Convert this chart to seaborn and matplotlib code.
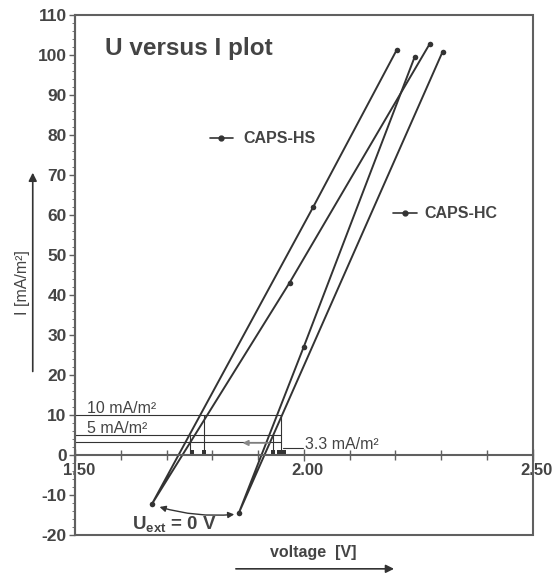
import numpy as np
import pandas as pd
import matplotlib
matplotlib.use("Agg")
import matplotlib.pyplot as plt
import matplotlib.transforms as mtransforms
from matplotlib.patches import Rectangle
from matplotlib.ticker import MultipleLocator, FormatStrFormatter
import seaborn as sns

# U-I curves (voltage in V, current in mA/m2)
hs_voltage = [2.203, 2.020, 1.668, 1.969, 2.275]
hs_current = [101.3, 61.9, -12.3, 43.1, 102.8]
hc_voltage = [2.242, 2.000, 1.858, 2.303]
hc_current = [99.5, 27.1, -14.5, 100.8]

# projections of the reference current levels onto the voltage axis
level_currents = [10, 5, 3.3]
level_labels = ["10 mA/m\u00b2", "5 mA/m\u00b2", "3.3 mA/m\u00b2"]
drop_voltage = [1.751, 1.782, 1.932, 1.950]
drop_current = [5, 10, 5, 10]
proj_voltage = [1.755, 1.782, 1.932, 1.945, 1.956]
proj_current = [0.8, 0.8, 0.8, 0.8, 0.8]

sns.set_theme(style="white")
plt.rcParams["font.family"] = ["Liberation Sans", "DejaVu Sans"]
plt.rcParams["mathtext.fontset"] = "custom"
plt.rcParams["mathtext.rm"] = "Liberation Sans"
plt.rcParams["mathtext.bf"] = "Liberation Sans:bold"
plt.rcParams["axes.unicode_minus"] = False

ink = "#333333"
frame = "#606060"
txt = "#444444"

fig = plt.figure(figsize=(5.55, 5.74), dpi=100)
ax = fig.add_axes([0.135, 0.068, 0.825, 0.906])

df_hs = pd.DataFrame({"voltage": hs_voltage, "current": hs_current})
df_hc = pd.DataFrame({"voltage": hc_voltage, "current": hc_current})
for d in (df_hs, df_hc):
    sns.lineplot(data=d, x="voltage", y="current", sort=False, estimator=None,
                 color=ink, lw=1.4, marker="o", markersize=4, markeredgewidth=0, ax=ax)

# reference level box lines
for c in level_currents:
    ax.plot([1.5, 1.95], [c, c], color=ink, lw=0.8)
for v, c in zip(drop_voltage, drop_current):
    ax.plot([v, v], [0, c], color=ink, lw=0.8)
sns.scatterplot(x=proj_voltage, y=proj_current, color=ink, s=12, marker="s",
                linewidth=0, ax=ax)

ax.text(1.526, 10.6, level_labels[0], fontsize=11.5, color=txt)
ax.text(1.526, 5.6, level_labels[1], fontsize=11.5, color=txt)
ax.text(2.002, 1.6, level_labels[2], fontsize=11.5, color=txt)
ax.plot([1.955, 1.998], [1.8, 1.8], color=ink, lw=0.8)
ax.annotate("", xy=(1.86, 3.0), xytext=(1.93, 3.0),
            arrowprops=dict(arrowstyle="-|>", color="#888888", lw=1.2, mutation_scale=8))

# title and series labels
ax.text(1.566, 100, "U versus I plot", fontsize=17.5, fontweight="bold", color=txt)
ax.plot([1.795, 1.845], [79.2, 79.2], color=ink, lw=1.2)
ax.plot([1.82], [79.2], color=ink, marker="o", markersize=3.5)
ax.text(1.867, 79.2, "CAPS-HS", fontsize=11.5, fontweight="bold", color=txt, va="center")
ax.plot([2.194, 2.247], [60.4, 60.4], color=ink, lw=1.2)
ax.plot([2.22], [60.4], color=ink, marker="o", markersize=3.5)
ax.text(2.264, 60.4, "CAPS-HC", fontsize=11.5, fontweight="bold", color=txt, va="center")

# short circuit annotation
ax.annotate("", xy=(1.679, -12.8), xytext=(1.854, -14.8),
            arrowprops=dict(arrowstyle="<|-|>", color=ink, lw=1.0, mutation_scale=9,
                            connectionstyle="arc3,rad=-0.1"))
ax.text(1.625, -18.8, r"U$_{\mathbf{ext}}$ = 0 V", fontsize=13.5, fontweight="bold", color=txt)

# axes
ax.set_xlim(1.5, 2.5)
ax.set_ylim(-20, 110)
ax.spines["bottom"].set_position(("data", 0))
for s in ("top", "right"):
    ax.spines[s].set_visible(False)
for s in ("bottom", "left"):
    ax.spines[s].set_color(frame)
    ax.spines[s].set_linewidth(1.5)
ax.add_patch(Rectangle((0, 0), 1, 1, transform=ax.transAxes, fill=False,
                       edgecolor=frame, lw=1.5, clip_on=False))
ax.xaxis.set_major_locator(MultipleLocator(0.5))
ax.xaxis.set_minor_locator(MultipleLocator(0.1))
ax.xaxis.set_major_formatter(FormatStrFormatter("%.2f"))
ax.yaxis.set_major_locator(MultipleLocator(10))
ax.yaxis.set_minor_locator(MultipleLocator(2))
ax.tick_params(axis="x", which="both", direction="inout", length=8, width=1.0,
               color=frame, labelsize=12, labelcolor=txt, pad=0, bottom=True)
ax.tick_params(axis="x", which="minor", length=7)
ax.tick_params(axis="y", which="major", direction="out", length=4, width=1.0,
               color=frame, labelsize=12.5, labelcolor=txt, left=True, pad=2)
ax.tick_params(axis="y", which="minor", direction="out", length=2, width=0.6,
               color=frame, left=True)
shift = mtransforms.ScaledTranslation(4 / 100, -2 / 100, fig.dpi_scale_trans)
for lab in ax.get_xticklabels():
    lab.set_fontweight("bold")
    lab.set_transform(lab.get_transform() + shift)
for lab in ax.get_yticklabels():
    lab.set_fontweight("bold")
ax.set_xlabel("")
ax.set_ylabel("")

# axis titles with arrows drawn outside the frame
fig.text(0.040, 0.507, "I [mA/m\u00b2]", rotation=90, fontsize=11.5, color=txt,
         ha="center", va="center")
ax.annotate("", xy=(0.059, 0.704), xytext=(0.059, 0.348), xycoords="figure fraction",
            textcoords="figure fraction",
            arrowprops=dict(arrowstyle="-|>", color=ink, lw=1.2, mutation_scale=12))
fig.text(0.565, 0.038, "voltage  [V]", fontsize=11.5, fontweight="bold", color=txt,
         ha="center", va="center")
ax.annotate("", xy=(0.715, 0.009), xytext=(0.42, 0.009), xycoords="figure fraction",
            textcoords="figure fraction",
            arrowprops=dict(arrowstyle="-|>", color=ink, lw=1.2, mutation_scale=12))

fig.savefig("out.png", dpi=100)
